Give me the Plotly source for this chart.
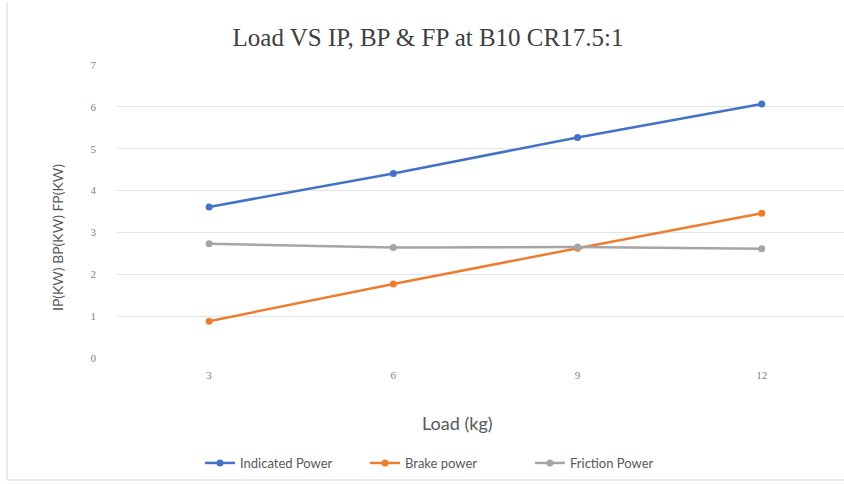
import plotly.graph_objects as go

# Engine test at B10 blend, compression ratio 17.5:1
load_kg = [3, 6, 9, 12]
indicated_power = [3.61, 4.41, 5.27, 6.07]
brake_power = [0.88, 1.77, 2.62, 3.46]
friction_power = [2.73, 2.64, 2.65, 2.61]

series = [
    ("Indicated Power", indicated_power, "#4472C4"),
    ("Brake power", brake_power, "#ED7D31"),
    ("Friction Power", friction_power, "#A5A5A5"),
]

W, H = 844, 484
ML, MR, MT, MB = 117, 0, 65, 126
plot_w = W - ML - MR
plot_h = H - MT - MB


def px_to_paper(px, py):
    """Convert page pixel position to paper coordinates."""
    return (px - ML) / plot_w, (H - MB - py) / plot_h


fig = go.Figure()
for name, values, color in series:
    fig.add_trace(go.Scatter(
        x=load_kg, y=values, name=name, mode="lines+markers",
        line=dict(color=color, width=2.5),
        marker=dict(color=color, size=7),
    ))

serif = "Liberation Serif, Times New Roman, serif"
sans = "Lato, Liberation Sans, sans-serif"

xt_x, xt_y = px_to_paper(457, 423)
yt_x, yt_y = px_to_paper(57, 238)
leg_x, leg_y = px_to_paper(200, 463)

fig.update_layout(
    width=W, height=H,
    margin=dict(l=ML, r=MR, t=MT, b=MB),
    paper_bgcolor="white", plot_bgcolor="white",
    title=dict(text="Load VS IP, BP & FP at B10 CR17.5:1",
               x=428 / W, xref="container", xanchor="center",
               y=1 - 37 / H, yref="container", yanchor="middle",
               font=dict(family=serif, size=25, color="#404040")),
    showlegend=True,
    legend=dict(orientation="h", x=leg_x, xanchor="left",
                y=leg_y, yanchor="middle",
                font=dict(family=sans, size=13, color="#595959"),
                entrywidth=120, entrywidthmode="pixels",
                tracegroupgap=0),
    xaxis=dict(range=[1.5, 13.34], tickvals=load_kg, showgrid=False,
               zeroline=False, showline=False,
               tickfont=dict(family=serif, size=11, color="#7f7f7f"),
               ticklabelstandoff=9),
    yaxis=dict(range=[0, 7], dtick=1, showgrid=True, gridcolor="#e4e4e4",
               gridwidth=1, zeroline=False, showline=False,
               tickfont=dict(family=serif, size=11, color="#7f7f7f"),
               ticklabelstandoff=20),
    annotations=[
        dict(text="Load (kg)", x=xt_x, y=xt_y, xref="paper", yref="paper",
             xanchor="center", yanchor="middle", showarrow=False,
             font=dict(family=sans, size=18, color="#595959")),
        dict(text="IP(KW) BP(KW) FP(KW)", x=yt_x, y=yt_y, xref="paper",
             yref="paper", xanchor="center", yanchor="middle",
             textangle=-90, showarrow=False,
             font=dict(family=sans, size=14, color="#595959")),
    ],
)

# Chart frame on the left and bottom edges
fl, fb = px_to_paper(7, 480)
_, ft = px_to_paper(7, 2)
fig.add_shape(type="line", xref="paper", yref="paper",
              x0=fl, x1=fl, y0=fb, y1=ft,
              line=dict(color="#d9d9d9", width=1))
fig.add_shape(type="line", xref="paper", yref="paper",
              x0=fl, x1=1.0, y0=fb, y1=fb,
              line=dict(color="#d9d9d9", width=1))

fig.write_html("out.html")
